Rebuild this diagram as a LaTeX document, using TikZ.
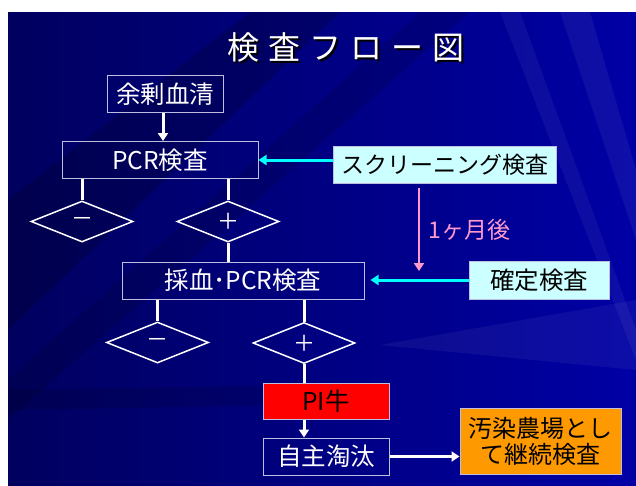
\documentclass[tikz,border=0pt]{standalone}
\usepackage{fontspec}
\setmainfont{Noto Sans CJK JP}
\usetikzlibrary{shapes.geometric,arrows.meta,calc}

\definecolor{slideblue}{RGB}{0,0,165}
\definecolor{slidedark}{RGB}{0,0,95}
\definecolor{paleCyan}{RGB}{204,255,255}
\definecolor{cyanline}{RGB}{0,255,255}
\definecolor{pinkline}{RGB}{255,153,204}
\definecolor{orangefill}{RGB}{255,153,0}
\definecolor{framegray}{RGB}{190,190,225}

\tikzset{
  box/.style={draw=framegray, line width=1pt, text=white, minimum height=37pt,
    inner sep=0pt, font=\fontsize{24.5}{27}\selectfont},
  notebox/.style={box, fill=paleCyan, text=black},
  branch/.style={diamond, draw=white, line width=1.5pt, text=white, minimum width=102pt,
    minimum height=41pt, inner sep=0pt, font=\fontsize{22}{24}\selectfont},
  flow/.style={draw=white, line width=3pt},
  flowarrow/.style={flow, -{Triangle[width=10pt,length=8pt]}},
  cyanarrow/.style={draw=cyanline, line width=3pt, -{Triangle[width=10pt,length=8pt]}},
  lagarrow/.style={draw=pinkline, line width=2.5pt, -{Triangle[width=10pt,length=8pt]}}
}

\begin{document}
\begin{tikzpicture}[x=1pt,y=-1pt]
    \useasboundingbox (0,0) rectangle (636,485);
    \fill[white] (0,0) rectangle (636,485);

    % Background
    \shade[left color=slidedark, right color=slideblue] (8,12) rectangle (636,485);
    \begin{scope}
        \clip (8,12) rectangle (636,485);
        \fill[black, opacity=0.18] (250,12) -- (340,12) -- (8,330) -- (8,200) -- cycle;
        \fill[black, opacity=0.12] (420,12) -- (470,12) -- (8,420) -- (8,380) -- cycle;
        \fill[white, opacity=0.06] (560,12) -- (590,12) -- (636,170) -- (636,240) -- cycle;
        \fill[white, opacity=0.05] (500,12) -- (520,12) -- (636,330) -- (636,360) -- cycle;
        \fill[white, opacity=0.05] (380,345) -- (636,300) -- (636,370) -- cycle;
        \fill[black, opacity=0.12] (8,390) -- (300,385) -- (300,405) -- (8,410) -- cycle;
    \end{scope}

    % Title
    \node[text=black, font=\fontsize{32}{36}\selectfont] at (348,49)
        {検\hspace{9pt}査\hspace{9pt}フ\hspace{9pt}ロ\hspace{9pt}ー\hspace{9pt}図};
    \node[text=white, font=\fontsize{32}{36}\selectfont] (title) at (346,47)
        {検\hspace{9pt}査\hspace{9pt}フ\hspace{9pt}ロ\hspace{9pt}ー\hspace{9pt}図};

    % Boxes
    \node[box, minimum width=116pt] (yojo) at (165,94) {余剰血清};
    \node[box, minimum width=196pt] (pcr) at (160,160) {PCR検査};
    \node[notebox, minimum width=223pt, font=\fontsize{23}{26}\selectfont] (screen) at (444.5,164.5) {スクリーニング検査};
    \node[box, minimum width=242pt] (saiketsu) at (243,280.5) {採血･PCR検査};
    \node[notebox, minimum width=140pt, minimum height=38pt] (kakutei) at (539,280) {確定検査};
    \node[box, fill=red, text=black, minimum width=126pt, minimum height=36pt] (pi) at (326,401) {PI牛};
    \node[box, minimum width=126pt] (tota) at (326,456.5) {自主淘汰};
    \node[box, fill=orangefill, text=black, minimum width=161pt, minimum height=66pt,
        align=center, font=\fontsize{24}{26}\selectfont] (osen) at (540.5,441) {汚染農場とし\\て継続検査};

    % Results
    \node[branch] (minusA) at (82,221.5) {－};
    \node[branch] (plusA) at (228,221.5) {＋};
    \node[branch] (minusB) at (157.5,342.5) {－};
    \node[branch] (plusB) at (304,343) {＋};

    % Flow
    \draw[flowarrow] (yojo.south -| 163,0) -- (163,0 |- pcr.north);
    \draw[flow] (minusA.north |- pcr.south) -- (minusA.north);
    \draw[flow] (plusA.north |- pcr.south) -- (plusA.north);
    \draw[flow] (plusA.south) -- (plusA.south |- saiketsu.north);
    \draw[flow] (minusB.north |- saiketsu.south) -- (minusB.north);
    \draw[flow] (plusB.north |- saiketsu.south) -- (plusB.north);
    \draw[flow] (plusB.south) -- (plusB.south |- pi.north);
    \draw[flowarrow] (plusB.south |- pi.south) -- (plusB.south |- tota.north);
    \draw[flowarrow] (tota.east) -- (osen.west |- tota.east);

    % Tests
    \draw[cyanarrow] (screen.west |- pcr.east) -- (pcr.east);
    \draw[cyanarrow, shorten >=6pt] (kakutei.west) -- (saiketsu.east |- kakutei.west);
    \coordinate (lagtop) at (419,188);
    \coordinate (lagend) at (419,271);
    \draw[lagarrow] (lagtop) -- (lagend)
        node[midway, right=5pt, text=pinkline, font=\fontsize{23}{26}\selectfont] (lag) {1ヶ月後};
\end{tikzpicture}
\end{document}
